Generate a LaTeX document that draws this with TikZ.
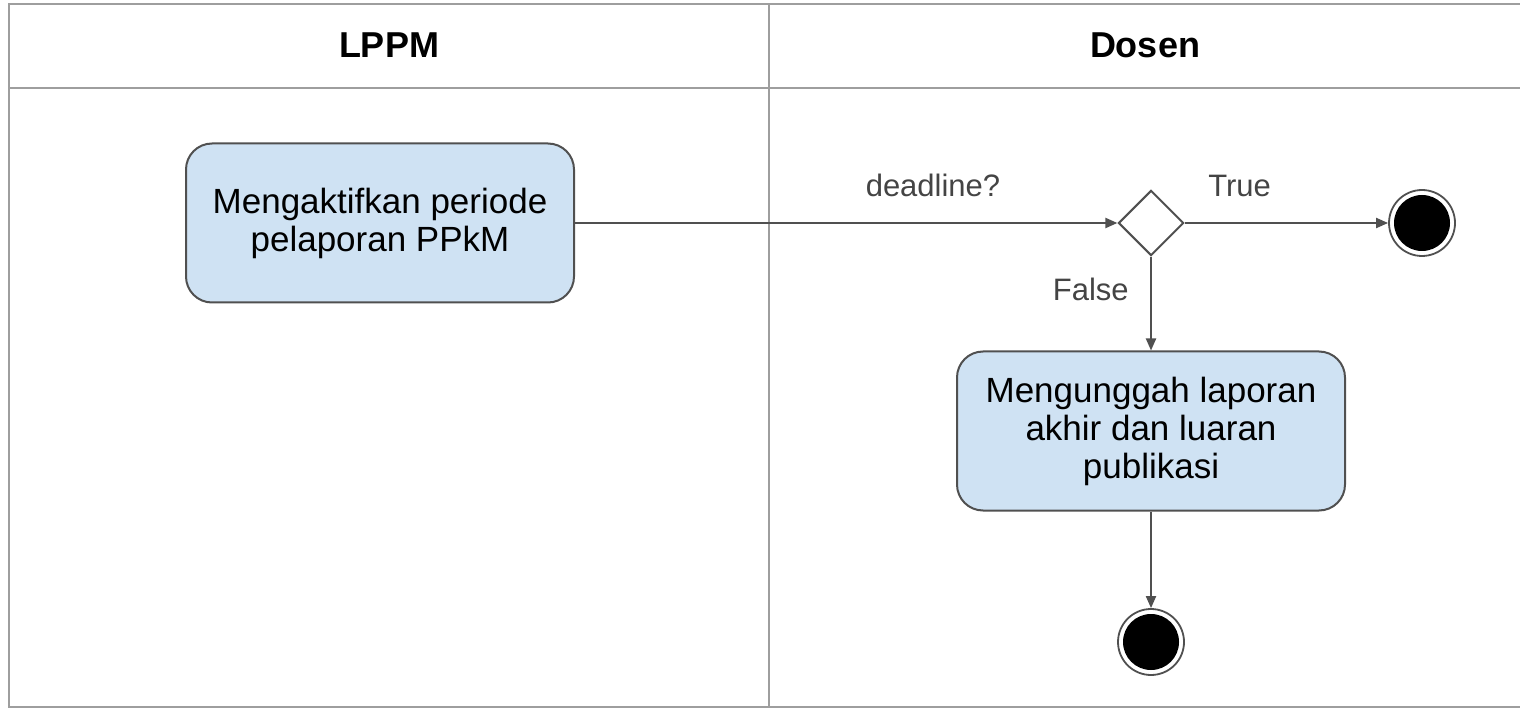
\documentclass[tikz,border=0pt]{standalone}
\usepackage{fontspec}
\setmainfont{Liberation Sans}
\usetikzlibrary{arrows.meta}
\definecolor{lanegray}{HTML}{9E9E9E}
\definecolor{edgegray}{HTML}{505050}
\definecolor{boxblue}{HTML}{CFE2F3}
\definecolor{labelgray}{HTML}{444444}
\tikzset{
  lane/.style={draw=lanegray, line width=2.2pt},
  actbox/.style={draw=edgegray, fill=boxblue, line width=2pt, rounded corners=26pt,
    minimum width=388pt, minimum height=159pt, align=center, inner sep=0pt,
    font=\fontsize{35}{38}\selectfont},
  decis/.style={draw=edgegray, line width=2pt, fill=white, rotate=45,
    minimum width=45.5pt, minimum height=45.5pt, inner sep=0pt},
  endnode/.style={circle, draw=edgegray, line width=1.8pt, fill=white, minimum size=66pt, inner sep=0pt,
    path picture={\fill[black] (path picture bounding box.center) circle (28pt);}},
  flow/.style={draw=edgegray, line width=2pt, -{Triangle[length=12pt,width=10pt]}},
  elabel/.style={text=labelgray, font=\fontsize{31}{34}\selectfont},
  header/.style={font=\bfseries\fontsize{36}{40}\selectfont}
}
\begin{document}
\begin{tikzpicture}[x=1pt,y=-1pt]
\useasboundingbox (0,0) rectangle (1520,708);
% swimlanes
\draw[lane] (1520,4) -- (9,4) -- (9,707) -- (1520,707);
\draw[lane] (9,88) -- (1520,88);
\draw[lane] (769,4) -- (769,707);
\node[header] (hl) at (389,45) {LPPM};
\node[header] (hd) at (1145,45) {Dosen};
% nodes
\node[actbox] (a1) at (380,223) {Mengaktifkan periode\\pelaporan PPkM};
\node[decis] (d) at (1151,223) {};
\node[endnode] (e1) at (1422,223) {};
\node[actbox] (a2) at (1151,431) {Mengunggah laporan\\akhir dan luaran\\publikasi};
\node[endnode] (e2) at (1151,642) {};
% edges
\draw[flow] (a1.east) -- (d.north west) node[elabel, pos=0.66, above=22pt] (l1) {deadline?};
\draw[flow] (d.south east) -- (e1.west) node[elabel, pos=0.27, above=22pt] (l2) {True};
\draw[flow] (d.south west) -- (a2.north) node[elabel, pos=0.35, left=18pt] (l3) {False};
\draw[flow] (a2.south) -- (e2.north);
\end{tikzpicture}
\end{document}
